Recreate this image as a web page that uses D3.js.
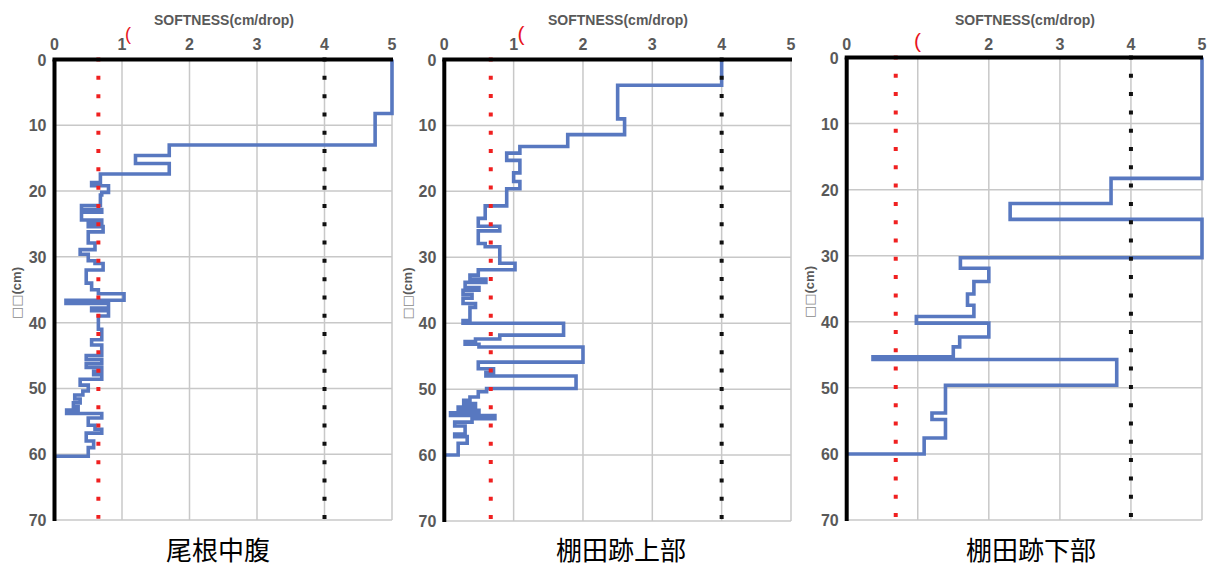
<!DOCTYPE html>
<html><head><meta charset="utf-8">
<script src="https://cdn.jsdelivr.net/npm/d3@7"></script>
<style>body{margin:0;background:#fff} svg{display:block}</style>
</head><body>
<svg id="chart" width="1210" height="567"></svg>
<script>
// ---- data ----
const xTicks = [0, 1, 2, 3, 4, 5];
const yTicks = [0, 10, 20, 30, 40, 50, 60, 70];
const axisTitle = "SOFTNESS(cm/drop)";
const depthBoxes = "□□";
const depthUnit = "(cm)";
const siteNames = ["尾根中腹", "棚田跡上部", "棚田跡下部"];

// step profiles: layer top depth (cm) and softness value of that layer
const depth1 = [0, 8.2, 13.0, 14.6, 15.8, 17.4, 18.7, 19.2, 20.2, 20.6, 22.2, 22.8, 23.2, 24.4, 24.9, 25.4, 26.2, 27.9, 28.9, 29.6, 30.6, 31.0, 32.0, 34.0, 35.0, 35.6, 36.6, 37.1, 37.8, 38.2, 39.0, 41.0, 42.6, 43.4, 45.0, 45.6, 46.2, 46.8, 47.4, 47.9, 48.6, 49.5, 50.4, 51.0, 51.6, 52.2, 52.8, 53.3, 53.8, 54.5, 55.6, 56.2, 56.8, 58.0, 59.0];
const value1 = [5.0, 4.75, 1.7, 1.2, 1.7, 0.68, 0.55, 0.8, 0.7, 0.68, 0.4, 0.7, 0.4, 0.7, 0.5, 0.72, 0.5, 0.6, 0.38, 0.5, 0.6, 0.72, 0.47, 0.55, 0.65, 1.03, 0.17, 0.8, 0.55, 0.8, 0.65, 0.7, 0.55, 0.7, 0.47, 0.7, 0.47, 0.7, 0.58, 0.7, 0.38, 0.5, 0.42, 0.3, 0.38, 0.28, 0.35, 0.18, 0.7, 0.5, 0.6, 0.7, 0.47, 0.58, 0.5];
const bottom1 = 60.3;

const depth2 = [0, 3.9, 9.0, 11.4, 13.2, 14.2, 15.3, 17.2, 18.5, 19.6, 22.2, 24.1, 25.3, 26.0, 27.9, 28.4, 30.9, 31.9, 32.7, 33.3, 33.8, 34.6, 35.0, 35.6, 36.2, 37.0, 37.6, 39.6, 40.0, 41.8, 42.4, 42.8, 43.2, 43.6, 45.9, 46.9, 47.5, 48.0, 49.9, 50.4, 51.2, 51.7, 52.2, 52.7, 53.2, 53.6, 54.0, 54.5, 55.0, 55.6, 56.8, 57.2, 58.2];
const value2 = [4.0, 2.5, 2.6, 1.78, 1.09, 0.9, 1.09, 1.0, 1.09, 0.9, 0.59, 0.49, 0.8, 0.49, 0.59, 0.8, 1.02, 0.49, 0.37, 0.6, 0.3, 0.5, 0.27, 0.4, 0.27, 0.45, 0.37, 0.27, 1.72, 0.8, 0.45, 0.3, 0.5, 2.0, 0.49, 0.71, 0.6, 1.9, 0.61, 0.49, 0.37, 0.28, 0.45, 0.2, 0.5, 0.09, 0.73, 0.4, 0.15, 0.3, 0.15, 0.33, 0.2];
const bottom2 = 60.0;

const depth3 = [0, 18.3, 22.1, 24.5, 30.3, 31.9, 33.9, 35.8, 37.5, 39.2, 40.2, 42.3, 43.8, 45.3, 45.7, 49.6, 53.8, 54.8, 57.6];
const value3 = [5.0, 3.72, 2.3, 5.0, 1.6, 2.0, 1.79, 1.70, 1.79, 0.98, 2.0, 1.59, 1.5, 0.37, 3.8, 1.39, 1.2, 1.39, 1.09];
const bottom3 = 60.0;

const redRef = [0.65, 0.67, 0.69];
const blackRef = [4, 4, 4];

// ---- layout ----
const panels = [
  {depth: depth1, value: value1, bottom: bottom1, x0: 54.5, x1: 392, y0: 59.5, y1: 520,
   titleX: 224, ylabX: 16.5, siteX: 218, paren: {x: 125, y: 40, s: 18}, skipTick: null},
  {depth: depth2, value: value2, bottom: bottom2, x0: 444.3, x1: 791, y0: 59.5, y1: 521,
   titleX: 618, ylabX: 407.5, siteX: 621, paren: {x: 517.5, y: 41, s: 21}, skipTick: null},
  {depth: depth3, value: value3, bottom: bottom3, x0: 846.7, x1: 1202, y0: 57.5, y1: 520,
   titleX: 1025, ylabX: 809.5, siteX: 1031, paren: {x: 914, y: 48, s: 21}, skipTick: 1}
];

const svg = d3.select("#chart");
const FONT = "'Liberation Sans', Arial, sans-serif";
const GREY = "#595959";

panels.forEach((p, i) => {
  const x = d3.scaleLinear().domain([0, 5]).range([p.x0, p.x1]);
  const y = d3.scaleLinear().domain([0, 70]).range([p.y0, p.y1]);
  const g = svg.append("g");

  // grid
  g.selectAll("line.vg").data(xTicks.filter(t => t > 0)).join("line")
    .attr("x1", d => x(d)).attr("x2", d => x(d)).attr("y1", y(0)).attr("y2", y(70))
    .attr("stroke", "#c8c8c8").attr("stroke-width", 1.5);
  g.selectAll("line.hg").data(yTicks.filter(t => t > 0)).join("line")
    .attr("x1", x(0)).attr("x2", x(5)).attr("y1", d => y(d)).attr("y2", d => y(d))
    .attr("stroke", "#c8c8c8").attr("stroke-width", 1.5);

  // step profile
  const pts = [];
  p.depth.forEach((d, k) => {
    const next = k < p.depth.length - 1 ? p.depth[k + 1] : p.bottom;
    pts.push([p.value[k], d]);
    pts.push([p.value[k], next]);
  });
  pts.push([0, p.bottom]);
  const line = d3.line().x(d => x(d[0])).y(d => y(d[1]));
  g.append("path").attr("d", line(pts)).attr("fill", "none")
    .attr("stroke", "#5878c0").attr("stroke-width", 3.6).attr("stroke-linejoin", "miter");

  // reference dotted lines
  const vline = d3.line().x(d => x(d[0])).y(d => y(d[1]));
  g.append("path").attr("d", vline([[blackRef[i], -0.3], [blackRef[i], 71]]))
    .attr("stroke", "#111").attr("stroke-width", 4).attr("stroke-dasharray", "4 14.3");
  g.append("path").attr("d", vline([[redRef[i], -0.3], [redRef[i], 69.8]]))
    .attr("stroke", "#f02020").attr("stroke-width", 4).attr("stroke-dasharray", "4 14.3");

  // axes frame
  g.append("line").attr("x1", x(0) - 2).attr("x2", x(5) + 1).attr("y1", y(0)).attr("y2", y(0))
    .attr("stroke", "#000").attr("stroke-width", 4);
  g.append("line").attr("x1", x(0)).attr("x2", x(0)).attr("y1", y(0)).attr("y2", y(70) + 1)
    .attr("stroke", "#000").attr("stroke-width", 4);

  // tick labels
  g.selectAll("text.xt").data(xTicks.filter(t => t !== p.skipTick)).join("text")
    .attr("x", d => x(d)).attr("y", 50).attr("text-anchor", "middle")
    .attr("font-family", FONT).attr("font-weight", "bold").attr("font-size", 16)
    .attr("fill", GREY).text(d => d);
  g.selectAll("text.yt").data(yTicks).join("text")
    .attr("x", x(0) - 8).attr("y", d => y(d) + 6).attr("text-anchor", "end")
    .attr("font-family", FONT).attr("font-weight", "bold").attr("font-size", 16)
    .attr("fill", GREY).text(d => d);

  // titles
  g.append("text").attr("x", p.titleX).attr("y", 25).attr("text-anchor", "middle")
    .attr("font-family", FONT).attr("font-weight", "bold").attr("font-size", 14)
    .attr("fill", GREY).text(axisTitle);
  const yl = g.append("text").attr("transform", `translate(${p.ylabX + 4.5},${y(35.5)}) rotate(-90)`)
    .attr("text-anchor", "middle")
    .attr("font-family", FONT).attr("font-weight", "bold").attr("font-size", 13)
    .attr("fill", GREY);
  yl.append("tspan").attr("font-family", "'DejaVu Sans', sans-serif").attr("font-weight", "normal")
    .attr("font-size", 13).attr("fill", "#8a8a8a").text(depthBoxes);
  yl.append("tspan").text(depthUnit);
  g.append("text").attr("x", p.paren.x).attr("y", p.paren.y)
    .attr("font-family", FONT).attr("font-size", p.paren.s).attr("fill", "#e8141e").text("(");
  g.append("text").attr("x", p.siteX).attr("y", 560).attr("text-anchor", "middle")
    .attr("font-family", "'Noto Sans CJK JP', sans-serif").attr("font-size", 26)
    .attr("fill", "#000").text(siteNames[i]);
});
</script>
</body></html>
